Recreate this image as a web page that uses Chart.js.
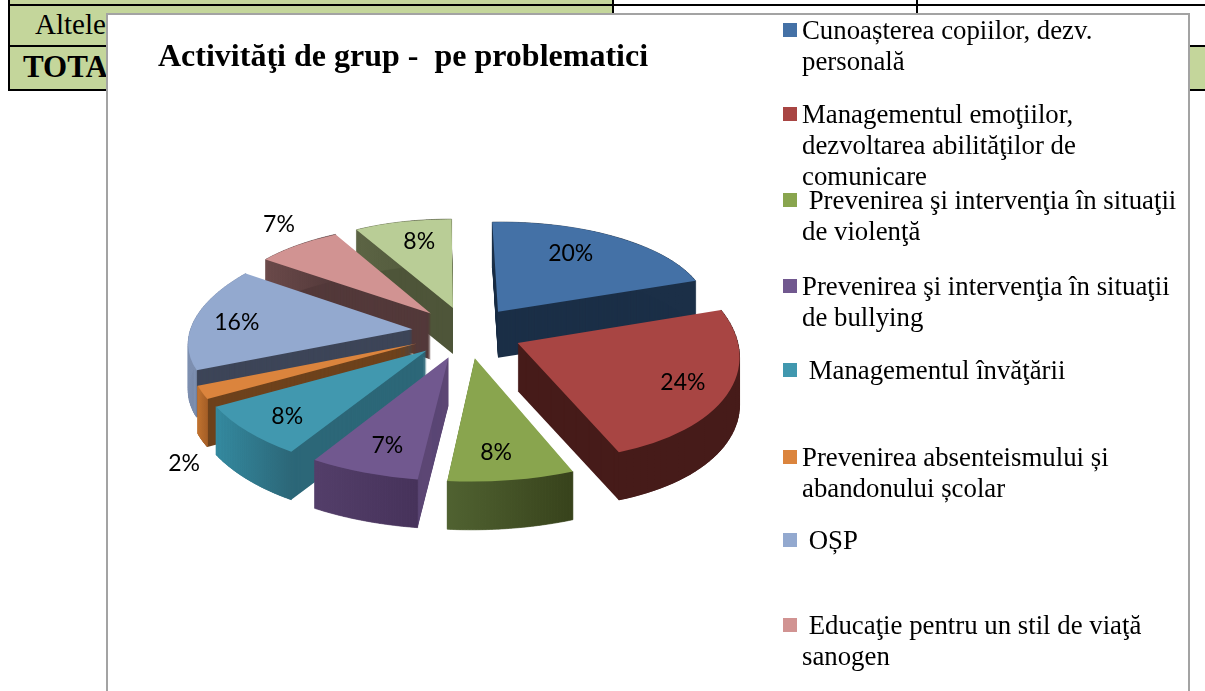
<!DOCTYPE html>
<html lang="ro">
<head>
<meta charset="utf-8">
<title>Activităţi de grup</title>
<style>
html,body{margin:0;padding:0;background:#fff;width:1205px;height:691px;overflow:hidden}
body{position:relative;font-family:"Liberation Serif",serif;color:#000}
.abs{position:absolute}
.g{background:#c4d69b}
.k{background:#000}
#frame{position:absolute;left:106px;top:13px;width:1080px;height:700px;border:2px solid #a3a3a3;background:#fff}
#chart{position:absolute;left:158px;top:15px}
.li{position:absolute;left:802px;font-size:26.8px;line-height:31px;white-space:pre-wrap;width:384px}
.sw{position:absolute;left:783px;width:14px;height:14px}
</style>
</head>
<body>
<div class="abs g" style="left:8px;top:0;width:605px;height:90px"></div>
<div class="abs g" style="left:1188px;top:46px;width:17px;height:44px"></div>
<div class="abs k" style="left:8px;top:0;width:2px;height:91px"></div>
<div class="abs k" style="left:8px;top:4px;width:1197px;height:2px"></div>
<div class="abs k" style="left:8px;top:45px;width:1197px;height:2px"></div>
<div class="abs k" style="left:8px;top:89px;width:1197px;height:2px"></div>
<div class="abs k" style="left:612px;top:0;width:2px;height:91px"></div>
<div class="abs k" style="left:916px;top:0;width:2px;height:91px"></div>
<div class="abs" style="left:35px;top:5px;font-size:29px;line-height:38px">Altele</div>
<div class="abs" style="left:23px;top:47px;font-size:31px;line-height:40px;font-weight:bold">TOTAL</div>
<div id="frame"></div>
<canvas id="chart" width="1030" height="676"></canvas>
<div id="legend"></div>
<script src="https://cdn.jsdelivr.net/npm/chart.js@4"></script>
<script>
// ---- data ----
const categories = [
  "Cunoașterea copiilor, dezv.\npersonală",
  "Managementul emoţiilor,\ndezvoltarea abilităţilor de\ncomunicare",
  " Prevenirea şi intervenţia în situaţii\nde violenţă",
  "Prevenirea şi intervenţia în situaţii\nde bullying",
  " Managementul învăţării",
  "Prevenirea absenteismului și\nabandonului școlar",
  " OȘP",
  " Educaţie pentru un stil de viaţă\nsanogen",
  "Altele"
];
const values = [20, 24, 8, 7, 8, 2, 16, 7, 8];
const titleText = "Activităţi de grup -  pe problematici";

// ---- styles ----
const topColors  = ["#4471a6","#a84543","#89a54e","#71588f","#4198af","#db843d","#93a9cf","#d19392","#b9cd96"];
const faceColors = ["#1b2f47","#461b19","#4f6130","#5c4775","#2c6778","#6e421c","#3d4558","#53393a","#4e5539"];
const rimLeft    = ["#1b2f47","#461b19","#506231","#533e69","#348aa0","#c0722f","#7d8fb0","#6b4a4a","#5c6444"];
const rimRight   = ["#1b2f47","#461b19","#37421b","#46325a","#2c6778","#a65f27","#7d8fb0","#53393a","#4e5539"];
const legendTops = [15, 99, 185, 271, 355, 442, 525, 610];
const labelRadius = [0.73, 0.78, 0.78, 0.775, 0.80, 1.34, 0.806, 1.28, 0.76];
const labelShiftDeg = [-5, 2, 2, -1, -1, -22, -1, 4, 2];
const PIE_ROTATION = -0.8, PIE_RADIUS = 222, EXPLODE = 55, TILT = 0.467, PERSP = 2015, DEPTH = 47;

const project = (c, u, v) => {
  const w = 1 - v / PERSP;
  return { x: c.x + u / w, y: c.y + TILT * v / w, w };
};

function sliceGeometry(arc, i) {
  const c = { x: arc.x, y: arc.y };
  const mid = (arc.startAngle + arc.endAngle) / 2;
  const ox = Math.cos(mid) * EXPLODE, oy = Math.sin(mid) * EXPLODE;
  const plane = (a, r) => project(c, ox + Math.cos(a) * r, oy + Math.sin(a) * r);
  const apex = plane(0, 0);
  const R = arc.outerRadius;
  const p1 = plane(arc.startAngle, R), p2 = plane(arc.endAngle, R);
  // affine map: arc's own flat coordinates -> tilted slice
  const sx1 = Math.cos(arc.startAngle) * R, sy1 = Math.sin(arc.startAngle) * R;
  const sx2 = Math.cos(arc.endAngle) * R, sy2 = Math.sin(arc.endAngle) * R;
  const det = sx1 * sy2 - sx2 * sy1;
  const dx1 = p1.x - apex.x, dy1 = p1.y - apex.y, dx2 = p2.x - apex.x, dy2 = p2.y - apex.y;
  const a = (dx1 * sy2 - dx2 * sy1) / det, c2 = (dx2 * sx1 - dx1 * sx2) / det;
  const b = (dy1 * sy2 - dy2 * sy1) / det, d = (dy2 * sx1 - dy1 * sx2) / det;
  const e = apex.x - a * c.x - c2 * c.y, f = apex.y - b * c.x - d * c.y;
  const map = (x, y) => ({ x: a * x + c2 * y + e, y: b * x + d * y + f });
  const rim = [];
  const n = 40;
  for (let k = 0; k <= n; k++) {
    const t = arc.startAngle + (arc.endAngle - arc.startAngle) * k / n;
    rim.push(map(c.x + Math.cos(t) * R, c.y + Math.sin(t) * R));
  }
  return { i, arc, apex, rim, m: [a, b, c2, d, e, f], depth: DEPTH / apex.w, plane, mid };
}

const pie3d = {
  id: 'pie3d',
  beforeDatasetsDraw(chart) {
    const ctx = chart.ctx;
    const slices = chart.getDatasetMeta(0).data.map(sliceGeometry).sort((p, q) => p.apex.y - q.apex.y);
    for (const s of slices) {
      const poly = dy => {
        ctx.beginPath();
        ctx.moveTo(s.apex.x, s.apex.y + dy);
        s.rim.forEach(p => ctx.lineTo(p.x, p.y + dy));
        ctx.closePath();
      };
      ctx.fillStyle = faceColors[s.i];
      for (let dy = Math.round(s.depth); dy >= 1; dy--) { poly(dy); ctx.fill(); }
      // rim band, one small quad at a time so that the curve's turning point stays filled
      const xs = s.rim.map(p => p.x);
      const g = ctx.createLinearGradient(Math.min(...xs), 0, Math.max(...xs), 0);
      g.addColorStop(0, rimLeft[s.i]); g.addColorStop(1, rimRight[s.i]);
      ctx.fillStyle = g; ctx.strokeStyle = g; ctx.lineWidth = 0.6;
      for (let k = 1; k < s.rim.length; k++) {
        const p = s.rim[k - 1], q = s.rim[k];
        ctx.beginPath();
        ctx.moveTo(p.x, p.y); ctx.lineTo(q.x, q.y);
        ctx.lineTo(q.x, q.y + s.depth); ctx.lineTo(p.x, p.y + s.depth);
        ctx.closePath(); ctx.fill(); ctx.stroke();
      }
      // top face: the library's own arc element
      ctx.save();
      ctx.transform(...s.m);
      s.arc.draw(ctx);
      ctx.restore();
    }
    ctx.fillStyle = '#000';
    ctx.font = '23px Lato';
    ctx.textAlign = 'center';
    ctx.textBaseline = 'middle';
    chart.getDatasetMeta(0).data.map(sliceGeometry).forEach(s => {
      const a = s.mid + labelShiftDeg[s.i] * Math.PI / 180;
      const p = s.plane(a, s.arc.outerRadius * labelRadius[s.i]);
      ctx.fillText(values[s.i] + '%', p.x, p.y + 1);
    });
    return false;
  }
};

new Chart(document.getElementById('chart'), {
  type: 'pie',
  data: {
    labels: categories,
    datasets: [{ data: values, backgroundColor: topColors, borderWidth: 0 }]
  },
  options: {
    responsive: false,
    animation: false,
    radius: PIE_RADIUS,
    rotation: PIE_ROTATION,
    layout: { padding: { right: 412, bottom: 110 } },
    plugins: {
      legend: { display: false },
      tooltip: { enabled: false },
      title: {
        display: true, text: titleText, align: 'start', color: '#000',
        font: { family: 'Liberation Serif', size: 32, weight: 'bold', lineHeight: 1.2 },
        padding: { top: 24, bottom: 6 }
      }
    }
  },
  plugins: [pie3d]
});

// legend (8 visible entries, the ninth falls below the page in the reference)
const legend = document.getElementById('legend');
legendTops.forEach((top, i) => {
  const t = document.createElement('div');
  t.className = 'li'; t.style.top = top + 'px'; t.textContent = categories[i];
  const s = document.createElement('div');
  s.className = 'sw'; s.style.top = (top + 8) + 'px'; s.style.background = topColors[i];
  legend.append(s, t);
});
</script>
</body>
</html>
